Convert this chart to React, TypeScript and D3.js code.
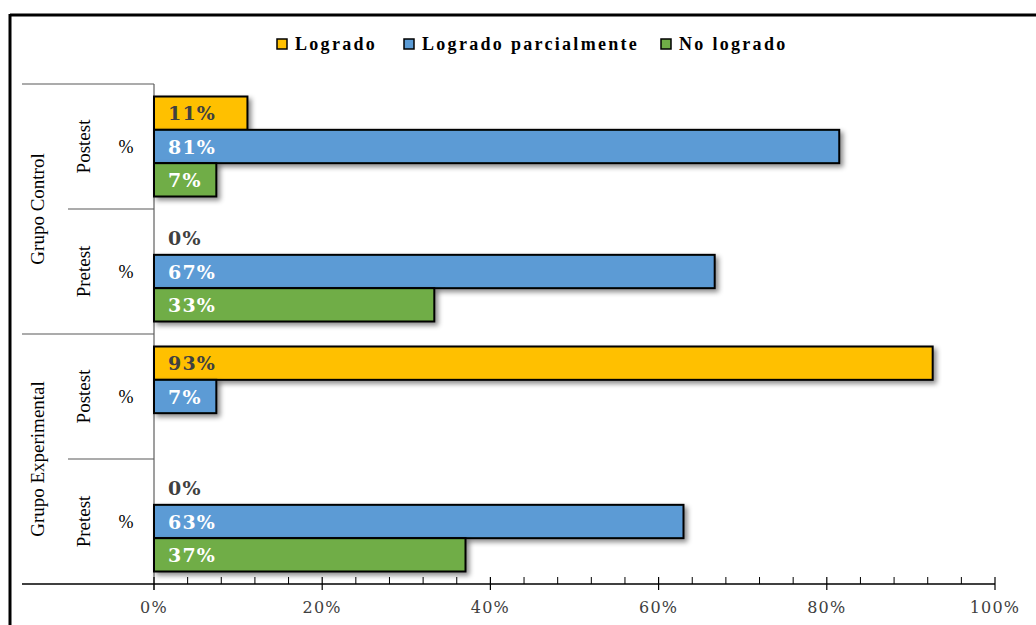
import React from "react";
import * as d3 from "d3";

const groups = ["Grupo Control", "Grupo Experimental"];
const phases = ["Postest", "Pretest"];
const categories = ["Control-Postest", "Control-Pretest", "Experimental-Postest", "Experimental-Pretest"];
const series = ["Logrado", "Logrado parcialmente", "No logrado"];
const logrado: (number | null)[] = [11.11, 0, 92.59, 0];
const parcial: (number | null)[] = [81.48, 66.67, 7.41, 62.96];
const noLogrado: (number | null)[] = [7.41, 33.33, null, 37.04];
const xTicks = [0, 20, 40, 60, 80, 100];
const colors = ["#FFC000", "#5B9BD5", "#70AD47"];
const labelColors = ["#404040", "#ffffff", "#ffffff"];

const W = 1036, H = 625;
const left = 154, right = 995, top = 84, bottom = 584;

export default function App() {
  const x = d3.scaleLinear().domain([0, 100]).range([left, right]);
  const y = d3.scaleBand<string>().domain(categories).range([top, bottom]).paddingInner(0).paddingOuter(0);
  const inner = d3.scaleBand<string>().domain(series).range([12.5, y.bandwidth() - 12.5]).padding(0);
  const values = [logrado, parcial, noLogrado];
  const minorTicks = d3.range(0, 101, 4).filter((v) => v % 20 !== 0);
  const fmt = (v: number) => `${Math.round(v)}%`;
  const serif = "'Liberation Serif', 'Times New Roman', serif";
  const wide = "'DejaVu Serif', serif";

  const legendItems = [
    { x: 283, label: series[0], c: colors[0] },
    { x: 410, label: series[1], c: colors[1] },
    { x: 667, label: series[2], c: colors[2] },
  ];

  return (
    <svg width={W} height={H} style={{ position: "absolute", left: 0, top: 0, background: "#fff" }}>
      <defs>
        <filter id="sh" x="-10%" y="-30%" width="130%" height="180%">
          <feDropShadow dx="3" dy="3" stdDeviation="2.5" floodColor="#000" floodOpacity="0.45" />
        </filter>
      </defs>
      {/* outer frame */}
      <line x1={10} y1={15} x2={W} y2={15} stroke="#000" strokeWidth={3} />
      <line x1={10} y1={14} x2={10} y2={H} stroke="#000" strokeWidth={3} />

      {/* legend */}
      {legendItems.map((d) => (
        <g key={d.label}>
          <rect x={d.x - 6} y={39} width={10} height={10} fill={d.c} stroke="#000" strokeWidth={1.5} />
          <text x={d.x + 12} y={50} fontFamily={serif} fontWeight="bold" fontSize={18} letterSpacing={2.3} fill="#000">
            {d.label}
          </text>
        </g>
      ))}

      {/* category axis lines */}
      <line x1={left} y1={top} x2={left} y2={bottom + 6} stroke="#7f7f7f" strokeWidth={1.5} />
      {groups.map((g, gi) => {
        const y0 = y(categories[gi * 2])!;
        const y1 = y(categories[gi * 2 + 1])! + y.bandwidth();
        return (
          <g key={g}>
            <line x1={22} y1={y0} x2={left} y2={y0} stroke="#595959" strokeWidth={1.2} />
            <line x1={68} y1={y(categories[gi * 2 + 1])!} x2={left} y2={y(categories[gi * 2 + 1])!} stroke="#595959" strokeWidth={1.2} />
            <text transform={`translate(${44},${(y0 + y1) / 2}) rotate(-90)`} textAnchor="middle" fontFamily={serif} fontSize={19} fill="#000">
              {g}
            </text>
          </g>
        );
      })}
      {categories.map((c, ci) => {
        const cy = y(c)! + y.bandwidth() / 2;
        return (
          <g key={c}>
            <text transform={`translate(${90},${cy}) rotate(-90)`} textAnchor="middle" fontFamily={serif} fontSize={19} fill="#000">
              {phases[ci % 2]}
            </text>
            <text x={126} y={cy + 6} textAnchor="middle" fontFamily={serif} fontSize={18} fill="#000">
              %
            </text>
          </g>
        );
      })}

      {/* bars */}
      {categories.map((c, ci) =>
        series.map((s, si) => {
          const v = values[si][ci];
          if (v === null) return null;
          const by = y(c)! + inner(s)!;
          const bh = inner.bandwidth();
          return (
            <g key={c + s}>
              {v > 0 && (
                <rect x={x(0)} y={by} width={x(v) - x(0)} height={bh} fill={colors[si]} stroke="#000" strokeWidth={2} filter="url(#sh)" />
              )}
              <text x={x(0) + 14} y={by + bh / 2 + 7} fontFamily={wide} fontWeight="bold" fontSize={19} letterSpacing={1.2}
                fill={v > 0 ? labelColors[si] : "#404040"}>
                {fmt(v)}
              </text>
            </g>
          );
        })
      )}

      {/* x axis */}
      <line x1={22} y1={bottom} x2={x(100)} y2={bottom} stroke="#000" strokeWidth={1.3} />
      {minorTicks.map((t) => (
        <line key={t} x1={x(t)} x2={x(t)} y1={bottom - 7} y2={bottom} stroke="#000" strokeWidth={1} />
      ))}
      {xTicks.map((t) => (
        <g key={t}>
          <line x1={x(t)} x2={x(t)} y1={bottom - 7} y2={bottom + 6} stroke="#000" strokeWidth={1.2} />
          <text x={x(t)} y={613} textAnchor="middle" fontFamily={wide} fontSize={16} letterSpacing={1.2} fill="#404040">
            {`${t}%`}
          </text>
        </g>
      ))}
    </svg>
  );
}
